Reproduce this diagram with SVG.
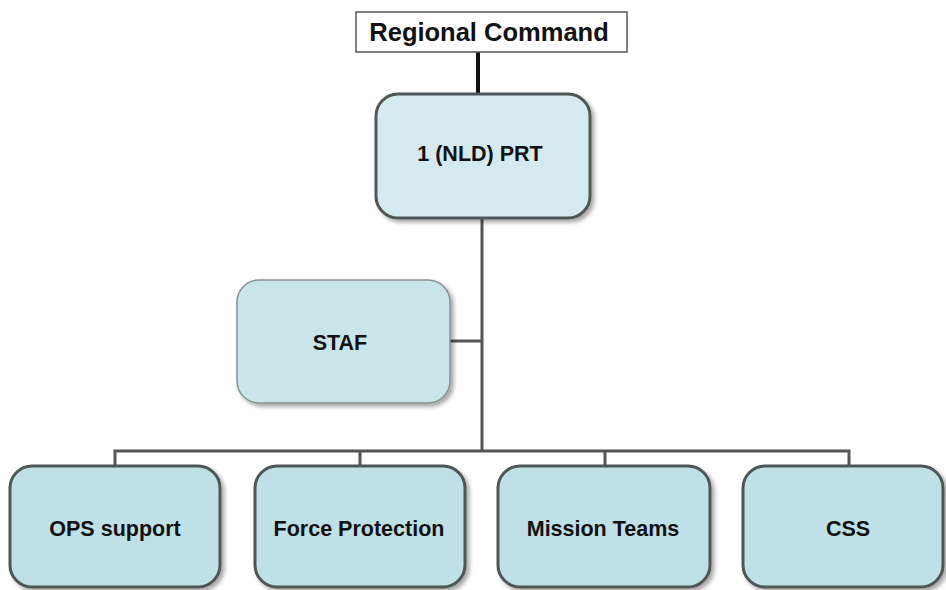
<svg xmlns="http://www.w3.org/2000/svg" width="946" height="590" viewBox="0 0 946 590">
<defs>
<filter id="sh" x="-10%" y="-10%" width="130%" height="130%">
<feGaussianBlur in="SourceAlpha" stdDeviation="2"/>
<feOffset dx="3" dy="3" result="o"/>
<feComponentTransfer><feFuncA type="linear" slope="0.35"/></feComponentTransfer>
<feMerge><feMergeNode/><feMergeNode in="SourceGraphic"/></feMerge>
</filter>
</defs>
<style>
text{font-family:"Liberation Sans",Arial,sans-serif;font-weight:bold;fill:#111;text-anchor:middle;}
.box{fill:#bfe0e6;stroke:#4f5656;stroke-width:3;filter:url(#sh);}
.prt{fill:#d5eaf0;stroke:#4f5656;stroke-width:3;filter:url(#sh);}
.staf{fill:#c9e5ea;stroke:#8a9090;stroke-width:1.5;filter:url(#sh);}
.con{stroke:#555;stroke-width:3;fill:none;}
.lbl{font-size:21.5px;}
</style>
<rect width="946" height="590" fill="#fff"/>
<g id="connectors">
<line x1="478" y1="52" x2="478" y2="95" stroke="#111" stroke-width="4"/>
<polyline class="con" points="482,218 482,451"/>
<line class="con" x1="450" y1="341" x2="482" y2="341"/>
<polyline class="con" points="115,466 115,451 849,451 849,466"/>
<line class="con" x1="360" y1="451" x2="360" y2="466"/>
<line class="con" x1="605" y1="451" x2="605" y2="466"/>
</g>
<g id="regional-command">
<rect x="356" y="12" width="271" height="40" fill="#fff" stroke="#555" stroke-width="1.5"/>
<text x="489" y="41" font-size="25.5">Regional Command</text>
</g>
<g id="prt">
<rect class="prt" x="376" y="94" width="214" height="124" rx="22"/>
<text class="lbl" x="480" y="161">1 (NLD) PRT</text>
</g>
<g id="staf">
<rect class="staf" x="237" y="280" width="213" height="123" rx="22"/>
<text class="lbl" x="340" y="350">STAF</text>
</g>
<g id="ops">
<rect class="box" x="10" y="466" width="210" height="121" rx="22"/>
<text class="lbl" x="115" y="536">OPS support</text>
</g>
<g id="force">
<rect class="box" x="255" y="466" width="210" height="121" rx="22"/>
<text class="lbl" x="359" y="536">Force Protection</text>
</g>
<g id="mission">
<rect class="box" x="498" y="466" width="212" height="121" rx="22"/>
<text class="lbl" x="603" y="536">Mission Teams</text>
</g>
<g id="css">
<rect class="box" x="743" y="466" width="200" height="121" rx="22"/>
<text class="lbl" x="848" y="536">CSS</text>
</g>
</svg>
